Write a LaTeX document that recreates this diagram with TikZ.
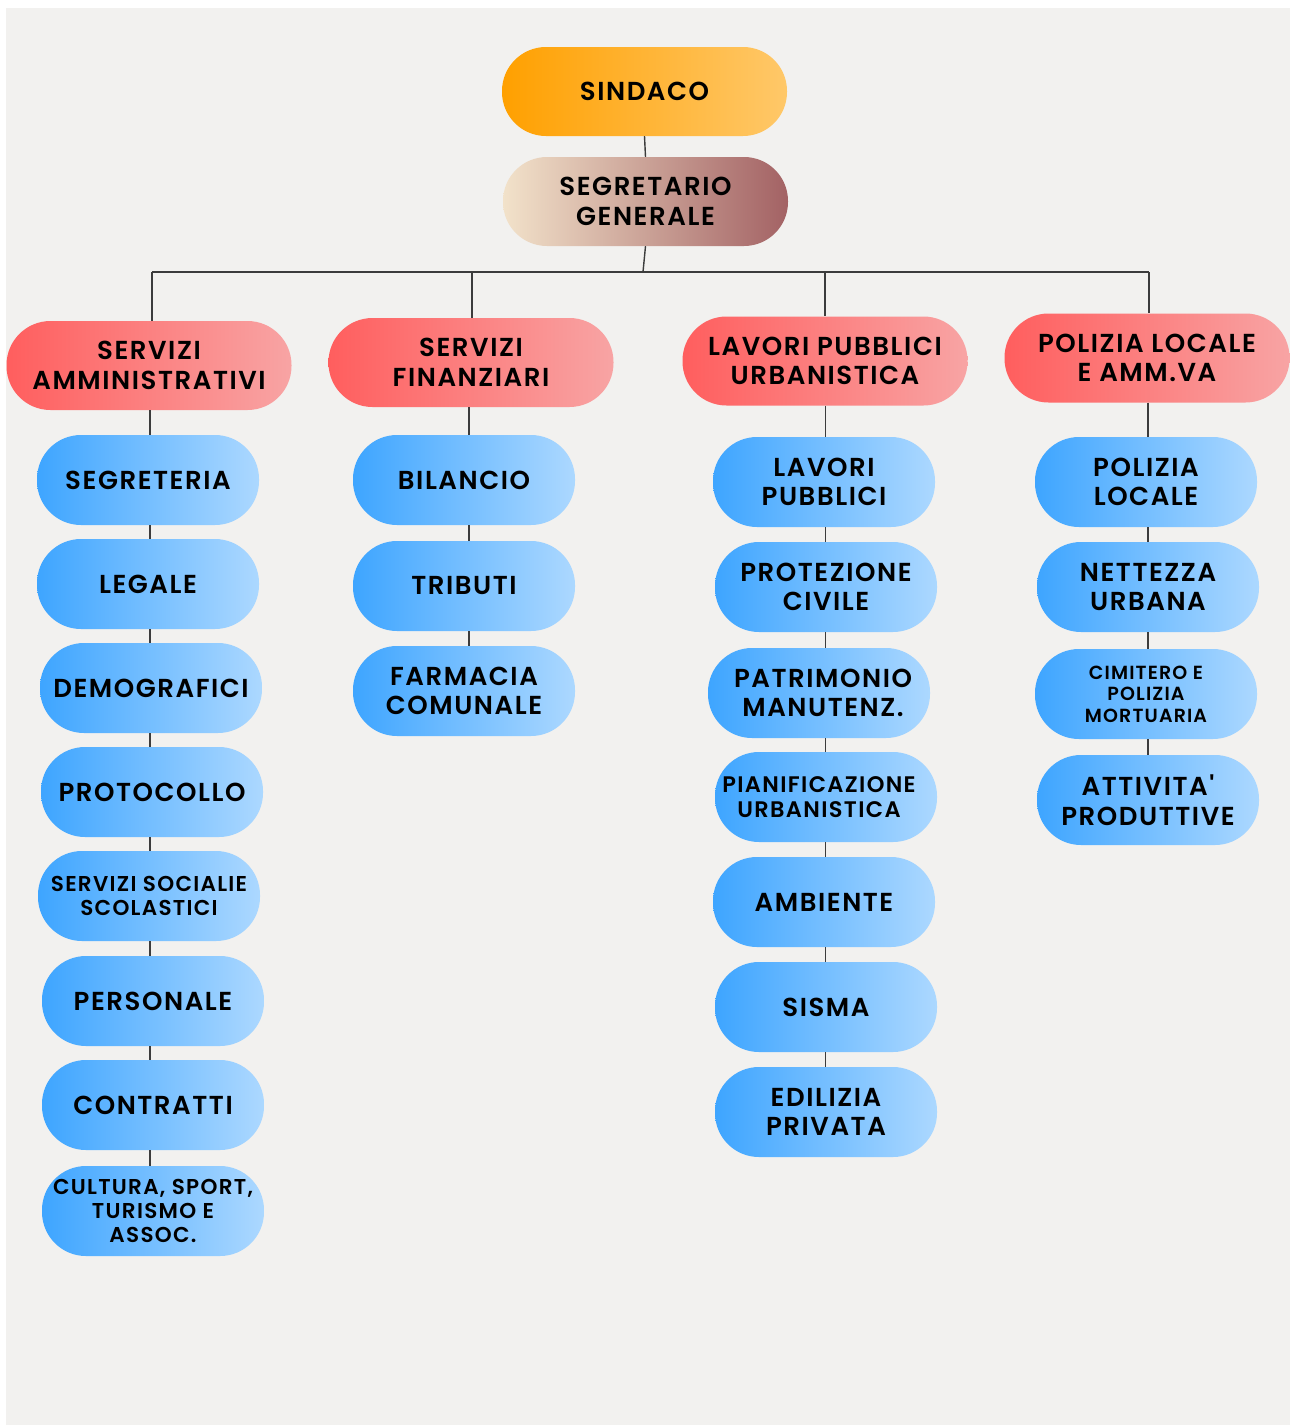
\documentclass[tikz,border=0pt]{standalone}
\usepackage{fontspec}
\newfontfamily\pop{Poppins SemiBold}[LetterSpace=6]
\definecolor{bg}{RGB}{242,241,239}
\definecolor{orL}{RGB}{255,160,0}
\definecolor{orR}{RGB}{255,200,105}
\definecolor{sgL}{RGB}{242,226,202}
\definecolor{sgR}{RGB}{163,98,100}
\definecolor{rdL}{RGB}{255,94,94}
\definecolor{rdR}{RGB}{248,164,164}
\definecolor{blL}{RGB}{62,165,255}
\definecolor{blR}{RGB}{172,216,255}
\definecolor{ln}{RGB}{60,60,60}
\tikzset{
  pill/.style={rounded corners=44pt, minimum width=222pt, minimum height=90pt, inner sep=0pt, align=center, text=black, font=\pop\fontsize{26}{29.5}\selectfont},
  wide/.style={pill, minimum width=285pt, minimum height=89pt},
  orange/.style={wide, left color=orL, right color=orR},
  mauve/.style={wide, left color=sgL, right color=sgR},
  redbox/.style={wide, left color=rdL, right color=rdR},
  bluebox/.style={pill, left color=blL, right color=blR},
  smalltxt/.style={font=\pop\fontsize{21.5}{24}\selectfont},
  tinytxt/.style={font=\pop\fontsize{19}{21.5}\selectfont},
  midtxt/.style={font=\pop\fontsize{22.5}{25}\selectfont},
  conn/.style={draw=ln, line width=1.4pt}
}
\begin{document}
\begin{tikzpicture}[x=1pt, y=-1pt]
\useasboundingbox (0,0) rectangle (1290,1425);
\fill[white] (0,0) rectangle (1290,1425);
\fill[bg] (6,8) rectangle (1290,1425);

% top
\node[orange] (sind) at (644.5,91.5) {SINDACO};
\node[mauve] (segr) at (645.5,201.5) {SEGRETARIO\\GENERALE};

% level 2
\node[redbox] (r1) at (149,365.5) {SERVIZI\\AMMINISTRATIVI};
\node[redbox] (r2) at (471,362.5) {SERVIZI\\FINANZIARI};
\node[redbox] (r3) at (825,361) {LAVORI PUBBLICI\\URBANISTICA};
\node[redbox] (r4) at (1147,358) {POLIZIA LOCALE\\E AMM.VA};

% column 1
\node[bluebox] (a1) at (148,480) {SEGRETERIA};
\node[bluebox] (a2) at (148,584) {LEGALE};
\node[bluebox] (a3) at (151,688) {DEMOGRAFICI};
\node[bluebox] (a4) at (152,792) {PROTOCOLLO};
\node[bluebox, smalltxt] (a5) at (149,896) {SERVIZI SOCIALIE\\SCOLASTICI};
\node[bluebox] (a6) at (153,1001) {PERSONALE};
\node[bluebox] (a7) at (153,1105) {CONTRATTI};
\node[bluebox, smalltxt] (a8) at (153,1211) {CULTURA, SPORT,\\TURISMO E\\ASSOC.};

% column 2
\node[bluebox] (b1) at (464,480) {BILANCIO};
\node[bluebox] (b2) at (464,586) {TRIBUTI};
\node[bluebox] (b3) at (464,691) {FARMACIA\\COMUNALE};

% column 3
\node[bluebox] (c1) at (824,482) {LAVORI\\PUBBLICI};
\node[bluebox] (c2) at (826,587) {PROTEZIONE\\CIVILE};
\node[bluebox] (c3) at (819,693) {\hspace*{8pt}PATRIMONIO\\\hspace*{8pt}MANUTENZ.};
\node[bluebox, midtxt] (c4) at (826,797) {PIANIFICAZIONE\hspace*{14pt}\\URBANISTICA\hspace*{14pt}};
\node[bluebox] (c5) at (824,902) {AMBIENTE};
\node[bluebox] (c6) at (826,1007) {SISMA};
\node[bluebox] (c7) at (826,1112) {EDILIZIA\\PRIVATA};

% column 4
\node[bluebox] (d1) at (1146,482) {POLIZIA\\LOCALE};
\node[bluebox] (d2) at (1148,587) {NETTEZZA\\URBANA};
\node[bluebox, tinytxt] (d3) at (1146,694) {CIMITERO E\\POLIZIA\\MORTUARIA};
\node[bluebox] (d4) at (1148,800) {ATTIVITA'\\PRODUTTIVE};

% bus and column coordinates
\coordinate (bc) at (643,272);
\coordinate (bl) at (152,272);
\coordinate (br) at (1149,272);
\coordinate (bx2) at (472,272);
\coordinate (bx3) at (825,272);
\coordinate (k1) at (150,0);
\coordinate (k2) at (469,0);
\coordinate (k3) at (825.5,0);
\coordinate (k4) at (1148,0);

% connectors
\draw[conn] (sind.south) -- (segr.north);
\draw[conn] (segr.south) -- (bc);
\draw[conn] (bl) -- (br);
\draw[conn] (bl) -- (r1.north -| bl);
\draw[conn] (bx2) -- (r2.north -| bx2);
\draw[conn] (bx3) -- (r3.north -| bx3);
\draw[conn] (br) -- (r4.north -| br);

\foreach \u/\v in {r1/a1,a1/a2,a2/a3,a3/a4,a4/a5,a5/a6,a6/a7,a7/a8}
  \draw[conn] (\u.south -| k1) -- (\v.north -| k1);
\foreach \u/\v in {r2/b1,b1/b2,b2/b3}
  \draw[conn] (\u.south -| k2) -- (\v.north -| k2);
\foreach \u/\v in {r3/c1,c1/c2,c2/c3,c3/c4,c4/c5,c5/c6,c6/c7}
  \draw[conn] (\u.south -| k3) -- (\v.north -| k3);
\foreach \u/\v in {r4/d1,d1/d2,d2/d3,d3/d4}
  \draw[conn] (\u.south -| k4) -- (\v.north -| k4);
\end{tikzpicture}
\end{document}
